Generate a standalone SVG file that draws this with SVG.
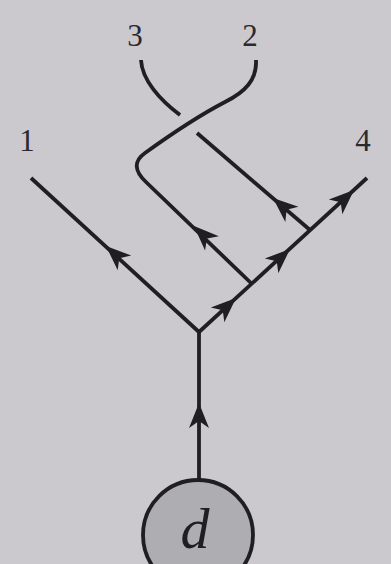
<svg xmlns="http://www.w3.org/2000/svg" width="391" height="564" viewBox="0 0 391 564">
<style>
.ln{fill:none;stroke:#1f1e23;stroke-width:3.8;stroke-linecap:butt;stroke-linejoin:round}
.ah{fill:#1f1e23}
.lb{font-family:"Liberation Serif",serif;font-size:31px;fill:#2a292e;text-anchor:middle}
</style>
<defs>
<path id="arr" d="M0,0 L-25,-10 L-18,0 L-25,10 Z"/>
</defs>
<rect width="391" height="564" fill="#cbc9ce"/>
<g id="connectors">
<path class="ln" d="M199,482 L199,332"/>
<path class="ln" d="M199,332 L31,178"/>
<path class="ln" d="M199,332 L367,178"/>
<path class="ln" d="M252,284 L146,182 Q128,165 145,153 C170,135 200,115 225,102 C245,92 257,80 256,60"/>
<path class="ln" d="M141,60 C142,80 160,100 180,115"/>
<path class="ln" d="M197,133 L310,230"/>
<use class="ah" href="#arr" transform="translate(199,403) rotate(-90)"/>
<use class="ah" href="#arr" transform="translate(106,246) rotate(-137.5)"/>
<use class="ah" href="#arr" transform="translate(194,226) rotate(-136)"/>
<use class="ah" href="#arr" transform="translate(273,198) rotate(-139)"/>
<use class="ah" href="#arr" transform="translate(236,298) rotate(-42.5)"/>
<use class="ah" href="#arr" transform="translate(290,249) rotate(-42.5)"/>
<use class="ah" href="#arr" transform="translate(354,190) rotate(-42.5)"/>
</g>
<g id="label1"><text class="lb" x="27" y="151">1</text></g>
<g id="label2"><text class="lb" x="250" y="46">2</text></g>
<g id="label3"><text class="lb" x="135" y="46">3</text></g>
<g id="label4"><text class="lb" x="363" y="151">4</text></g>
<g id="node-d">
<circle cx="198" cy="535" r="55" fill="#aeadb1" stroke="#1f1e23" stroke-width="3.8"/>
<text x="195" y="548" font-family="Liberation Serif,serif" font-style="italic" font-size="58" fill="#1f1e23" text-anchor="middle">d</text>
</g>
</svg>
